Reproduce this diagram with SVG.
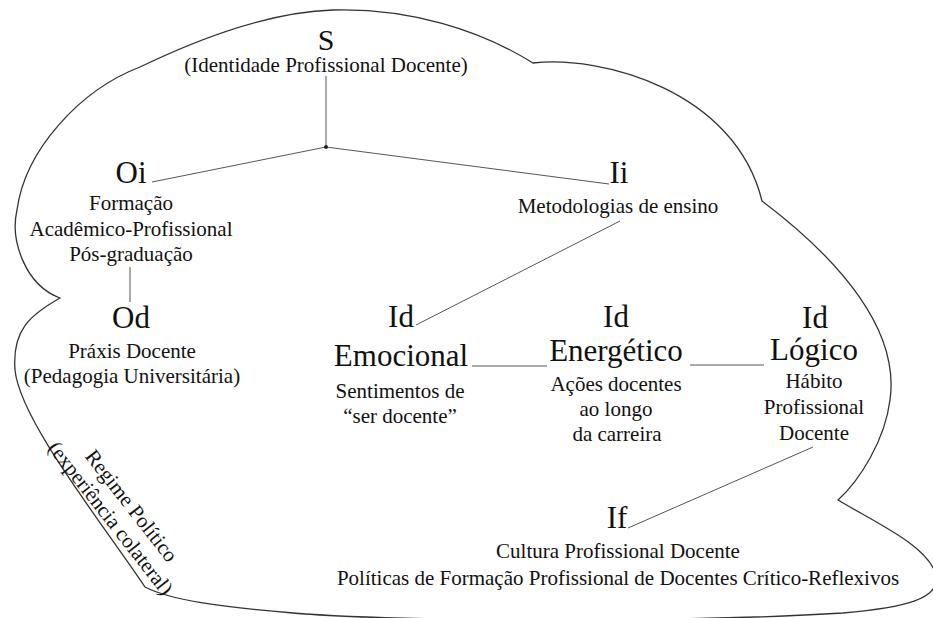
<svg xmlns="http://www.w3.org/2000/svg" width="933" height="618" viewBox="0 0 933 618">
<style>
  .t text { fill: #111; text-anchor: middle; }
  .big { font-size: 31px; }
  .sm { font-size: 21px; }
  .outline { fill: none; stroke: #333; stroke-width: 1.3; }
  .conn line { stroke: #555; stroke-width: 1; }
</style>
<rect width="933" height="618" fill="#fff"/>
<g id="cloud">
  <path class="outline" d="M140,67 C200,38 270,12 333,10 C410,8 480,30 533,63 C600,55 735,90 762,201 C840,260 900,330 890,400 C885,440 860,480 838,500 C880,525 925,545 935,572 C945,600 900,608 843,613 C700,622 400,622 293,613 C220,607 170,600 145,587 C100,520 20,420 15,370 C12,330 30,315 60,298 C25,285 10,240 17,210 C25,150 80,90 140,67 Z"/>
</g>
<g class="conn" id="connectors">
  <line x1="326" y1="76" x2="326" y2="147"/>
  <line x1="326" y1="147" x2="152" y2="182"/>
  <line x1="326" y1="147" x2="609" y2="184"/>
  <line x1="130" y1="267" x2="130" y2="302"/>
  <line x1="620" y1="221" x2="416" y2="325"/>
  <line x1="472" y1="366" x2="547" y2="366"/>
  <line x1="690" y1="365" x2="764" y2="365"/>
  <line x1="813" y1="447" x2="628" y2="528"/>
  <circle cx="326" cy="147" r="2" fill="#222"/>
</g>
<g class="t" font-family="Liberation Serif, DejaVu Serif, serif">
<g id="S">
  <text class="big" x="326" y="50" style="font-size:30px">S</text>
  <text class="sm" x="326" y="72">(Identidade Profissional Docente)</text>
</g>
<g id="Oi">
  <text class="big" x="131" y="183">Oi</text>
  <text class="sm" x="131" y="210">Formação</text>
  <text class="sm" x="131" y="236">Acadêmico-Profissional</text>
  <text class="sm" x="131" y="261">Pós-graduação</text>
</g>
<g id="Ii">
  <text class="big" x="619" y="183">Ii</text>
  <text class="sm" x="618" y="213">Metodologias de ensino</text>
</g>
<g id="Od">
  <text class="big" x="131" y="328">Od</text>
  <text class="sm" x="132" y="358">Práxis Docente</text>
  <text class="sm" x="132" y="383">(Pedagogia Universitária)</text>
</g>
<g id="IdEmocional">
  <text class="big" x="401" y="327">Id</text>
  <text class="big" x="401" y="366">Emocional</text>
  <text class="sm" x="400" y="398">Sentimentos de</text>
  <text class="sm" x="400" y="423">“ser docente”</text>
</g>
<g id="IdEnergetico">
  <text class="big" x="616" y="327">Id</text>
  <text class="big" x="616" y="361">Energético</text>
  <text class="sm" x="616" y="391">Ações docentes</text>
  <text class="sm" x="616" y="416">ao longo</text>
  <text class="sm" x="617" y="441">da carreira</text>
</g>
<g id="IdLogico">
  <text class="big" x="815" y="328">Id</text>
  <text class="big" x="814" y="360">Lógico</text>
  <text class="sm" x="814" y="388">Hábito</text>
  <text class="sm" x="814" y="414">Profissional</text>
  <text class="sm" x="814" y="440">Docente</text>
</g>
<g id="If">
  <text class="big" x="617" y="528">If</text>
  <text class="sm" x="618" y="558">Cultura Profissional Docente</text>
  <text class="sm" x="618" y="585">Políticas de Formação Profissional de Docentes Crítico-Reflexivos</text>
</g>
<g id="Regime" transform="translate(126,510) rotate(52)">
  <text class="sm" x="0" y="0">Regime Político</text>
  <text class="sm" x="-3" y="24">(experiência colateral)</text>
</g>
</g>
</svg>
